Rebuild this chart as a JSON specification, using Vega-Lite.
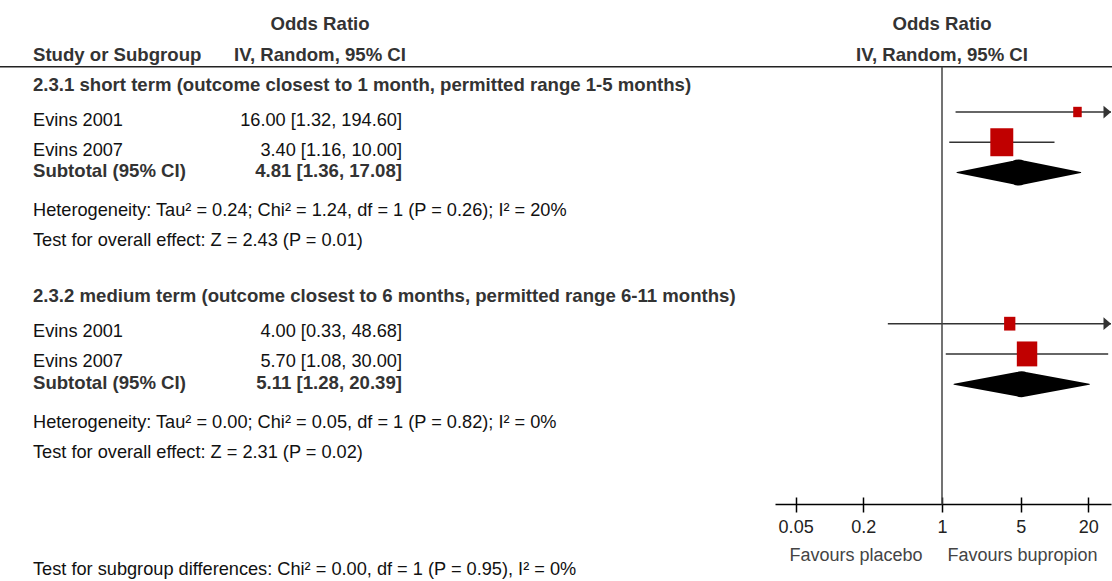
{
  "$schema": "https://vega.github.io/schema/vega-lite/v6.json",
  "width": 1112,
  "height": 581,
  "autosize": {"type": "none"},
  "padding": 0,
  "background": "white",
  "config": {"view": {"stroke": null}, "font": "Liberation Sans"},
  "datasets": {
    "rows": [
      {"kind": "colhead", "row": 1, "label": "Odds Ratio"},
      {"kind": "colhead", "row": 2, "label": "IV, Random, 95% CI"},
      {"kind": "header", "row": 2, "label": "Study or Subgroup"},
      {"kind": "title", "row": 3, "label": "2.3.1 short term (outcome closest to 1 month, permitted range 1-5 months)"},
      {"kind": "study", "group": "2.3.1", "row": 4, "label": "Evins 2001", "ci": "16.00 [1.32, 194.60]", "or": 16.0, "lo": 1.32, "hi": 194.6, "weight": 12},
      {"kind": "study", "group": "2.3.1", "row": 5, "label": "Evins 2007", "ci": "3.40 [1.16, 10.00]", "or": 3.4, "lo": 1.16, "hi": 10.0, "weight": 87},
      {"kind": "subtotal", "group": "2.3.1", "row": 6, "label": "Subtotal (95% CI)", "ci": "4.81 [1.36, 17.08]", "or": 4.81, "lo": 1.36, "hi": 17.08},
      {"kind": "note", "row": 7, "label": "Heterogeneity: Tau² = 0.24; Chi² = 1.24, df = 1 (P = 0.26); I² = 20%"},
      {"kind": "note", "row": 8, "label": "Test for overall effect: Z = 2.43 (P = 0.01)"},
      {"kind": "title", "row": 10, "label": "2.3.2 medium term (outcome closest to 6 months, permitted range 6-11 months)"},
      {"kind": "study", "group": "2.3.2", "row": 11, "label": "Evins 2001", "ci": "4.00 [0.33, 48.68]", "or": 4.0, "lo": 0.33, "hi": 48.68, "weight": 21},
      {"kind": "study", "group": "2.3.2", "row": 12, "label": "Evins 2007", "ci": "5.70 [1.08, 30.00]", "or": 5.7, "lo": 1.08, "hi": 30.0, "weight": 69},
      {"kind": "subtotal", "group": "2.3.2", "row": 13, "label": "Subtotal (95% CI)", "ci": "5.11 [1.28, 20.39]", "or": 5.11, "lo": 1.28, "hi": 20.39},
      {"kind": "note", "row": 14, "label": "Heterogeneity: Tau² = 0.00; Chi² = 0.05, df = 1 (P = 0.82); I² = 0%"},
      {"kind": "note", "row": 15, "label": "Test for overall effect: Z = 2.31 (P = 0.02)"},
      {"kind": "foot", "row": 19, "label": "Test for subgroup differences: Chi² = 0.00, df = 1 (P = 0.95), I² = 0%"}
    ]
  },
  "data": {"name": "rows"},
  "resolve": {"scale": {"x": "independent"}},
  "layer": [
    {
      "layer": [
        {
          "data": {"values": [{}]},
          "mark": {"type": "rule", "color": "#222", "strokeWidth": 1.5},
          "encoding": {
            "y": {"datum": 2.5, "type": "quantitative", "scale": {"domain": [0.2963, 19.509], "reverse": true, "nice": false, "zero": false}, "axis": null}
          }
        },
        {
          "transform": [{"filter": {"field": "kind", "oneOf": ["study", "note"]}}],
          "mark": {"type": "text", "align": "left", "baseline": "middle", "dy": 8.5, "fontSize": 18.2, "color": "#111"},
          "encoding": {
            "x": {"datum": "label", "type": "nominal", "scale": {"type": "point", "domain": ["label", "ci"], "range": [33, 402], "padding": 0}, "axis": null},
            "y": {"field": "row", "type": "quantitative", "scale": {"domain": [0.2963, 19.509], "reverse": true, "nice": false, "zero": false}, "axis": null},
            "text": {"field": "label"}
          }
        },
        {
          "transform": [{"filter": {"field": "kind", "equal": "foot"}}],
          "mark": {"type": "text", "align": "left", "baseline": "middle", "dy": 4.5, "fontSize": 18.2, "color": "#111"},
          "encoding": {
            "x": {"datum": "label", "type": "nominal", "scale": {"type": "point", "domain": ["label", "ci"], "range": [33, 402], "padding": 0}, "axis": null},
            "y": {"field": "row", "type": "quantitative", "scale": {"domain": [0.2963, 19.509], "reverse": true, "nice": false, "zero": false}, "axis": null},
            "text": {"field": "label"}
          }
        },
        {
          "transform": [{"filter": {"field": "kind", "oneOf": ["title", "header"]}}],
          "mark": {"type": "text", "align": "left", "baseline": "middle", "dy": 3, "fontSize": 18.6, "fontWeight": "bold", "color": "#333"},
          "encoding": {
            "x": {"datum": "label", "type": "nominal", "scale": {"type": "point", "domain": ["label", "ci"], "range": [33, 402], "padding": 0}, "axis": null},
            "y": {"field": "row", "type": "quantitative", "scale": {"domain": [0.2963, 19.509], "reverse": true, "nice": false, "zero": false}, "axis": null},
            "text": {"field": "label"}
          }
        },
        {
          "transform": [{"filter": {"field": "kind", "equal": "subtotal"}}],
          "mark": {"type": "text", "align": "left", "baseline": "middle", "dy": -1, "fontSize": 18.6, "fontWeight": "bold", "color": "#333"},
          "encoding": {
            "x": {"datum": "label", "type": "nominal", "scale": {"type": "point", "domain": ["label", "ci"], "range": [33, 402], "padding": 0}, "axis": null},
            "y": {"field": "row", "type": "quantitative", "scale": {"domain": [0.2963, 19.509], "reverse": true, "nice": false, "zero": false}, "axis": null},
            "text": {"field": "label"}
          }
        },
        {
          "transform": [{"filter": {"field": "kind", "equal": "study"}}],
          "mark": {"type": "text", "align": "right", "baseline": "middle", "dy": 8.5, "fontSize": 18.2, "color": "#111"},
          "encoding": {
            "x": {"datum": "ci", "type": "nominal", "scale": {"type": "point", "domain": ["label", "ci"], "range": [33, 402], "padding": 0}, "axis": null},
            "y": {"field": "row", "type": "quantitative", "scale": {"domain": [0.2963, 19.509], "reverse": true, "nice": false, "zero": false}, "axis": null},
            "text": {"field": "ci"}
          }
        },
        {
          "transform": [{"filter": {"field": "kind", "equal": "subtotal"}}],
          "mark": {"type": "text", "align": "right", "baseline": "middle", "dy": -1, "fontSize": 18.6, "fontWeight": "bold", "color": "#333"},
          "encoding": {
            "x": {"datum": "ci", "type": "nominal", "scale": {"type": "point", "domain": ["label", "ci"], "range": [33, 402], "padding": 0}, "axis": null},
            "y": {"field": "row", "type": "quantitative", "scale": {"domain": [0.2963, 19.509], "reverse": true, "nice": false, "zero": false}, "axis": null},
            "text": {"field": "ci"}
          }
        }
      ]
    },
    {
      "transform": [{"filter": {"field": "kind", "equal": "colhead"}}],
      "mark": {"type": "text", "align": "center", "baseline": "middle", "dy": 3, "fontSize": 18.6, "fontWeight": "bold", "color": "#333"},
      "encoding": {
        "x": {"datum": "head", "type": "nominal", "scale": {"type": "point", "domain": ["label", "head"], "range": [33, 320], "padding": 0}, "axis": null},
        "y": {"field": "row", "type": "quantitative", "scale": {"domain": [0.2963, 19.509], "reverse": true, "nice": false, "zero": false}, "axis": null},
        "text": {"field": "label"}
      }
    },
    {
      "resolve": {"scale": {"size": "independent"}},
      "layer": [
        {
          "transform": [{"filter": {"field": "kind", "equal": "study"}}],
          "mark": {"type": "rule", "color": "#333", "strokeWidth": 1.5},
          "encoding": {
            "x": {"field": "lo", "type": "quantitative", "scale": {"type": "log", "domain": [0.03278, 31.78], "range": [775, 1111], "nice": false, "clamp": true},
              "axis": {"orient": "bottom", "offset": -77, "values": [0.05, 0.2, 1, 5, 20], "format": "~g", "grid": false, "domainColor": "#000", "domainWidth": 1.5, "tickColor": "#000", "tickWidth": 1.5, "tickSize": 8, "labelFontSize": 18, "labelColor": "#222", "labelPadding": 6, "labelFont": "Liberation Sans", "labelFlush": false, "labelOverlap": false, "title": "Favours placebo\u00a0\u00a0\u00a0\u00a0\u00a0Favours bupropion", "titleFontSize": 18, "titleFontWeight": "normal", "titleColor": "#444", "titlePadding": 10, "titleFont": "Liberation Sans"}},
            "x2": {"field": "hi"},
            "y": {"field": "row", "type": "quantitative", "scale": {"domain": [0.2963, 19.509], "reverse": true, "nice": false, "zero": false}, "axis": null}
          }
        },
        {
          "transform": [{"filter": {"field": "kind", "equal": "study"}}, {"filter": {"field": "hi", "gt": 31.78}}],
          "mark": {"type": "point", "shape": "M0,0L-1,-0.85L-1,0.85Z", "size": 225, "filled": true, "color": "#333", "opacity": 1, "strokeWidth": 0},
          "encoding": {
            "x": {"field": "hi", "type": "quantitative", "scale": {"type": "log", "domain": [0.03278, 31.78], "range": [775, 1111], "nice": false, "clamp": true},
              "axis": {"orient": "bottom", "offset": -77, "values": [0.05, 0.2, 1, 5, 20], "format": "~g", "grid": false, "domainColor": "#000", "domainWidth": 1.5, "tickColor": "#000", "tickWidth": 1.5, "tickSize": 8, "labelFontSize": 18, "labelColor": "#222", "labelPadding": 6, "labelFont": "Liberation Sans", "labelFlush": false, "labelOverlap": false, "title": "Favours placebo\u00a0\u00a0\u00a0\u00a0\u00a0Favours bupropion", "titleFontSize": 18, "titleFontWeight": "normal", "titleColor": "#444", "titlePadding": 10, "titleFont": "Liberation Sans"}},
            "y": {"field": "row", "type": "quantitative", "scale": {"domain": [0.2963, 19.509], "reverse": true, "nice": false, "zero": false}, "axis": null}
          }
        },
        {
          "transform": [{"filter": {"field": "kind", "equal": "study"}}],
          "mark": {"type": "point", "shape": "M-0.82,-1H0.82V1H-0.82Z", "filled": true, "color": "#C00000", "opacity": 1, "strokeWidth": 0},
          "encoding": {
            "x": {"field": "or", "type": "quantitative", "scale": {"type": "log", "domain": [0.03278, 31.78], "range": [775, 1111], "nice": false, "clamp": true},
              "axis": {"orient": "bottom", "offset": -77, "values": [0.05, 0.2, 1, 5, 20], "format": "~g", "grid": false, "domainColor": "#000", "domainWidth": 1.5, "tickColor": "#000", "tickWidth": 1.5, "tickSize": 8, "labelFontSize": 18, "labelColor": "#222", "labelPadding": 6, "labelFont": "Liberation Sans", "labelFlush": false, "labelOverlap": false, "title": "Favours placebo\u00a0\u00a0\u00a0\u00a0\u00a0Favours bupropion", "titleFontSize": 18, "titleFontWeight": "normal", "titleColor": "#444", "titlePadding": 10, "titleFont": "Liberation Sans"}},
            "y": {"field": "row", "type": "quantitative", "scale": {"domain": [0.2963, 19.509], "reverse": true, "nice": false, "zero": false}, "axis": null},
            "size": {"field": "weight", "type": "quantitative", "scale": {"domain": [0, 100], "range": [0, 900]}, "legend": null}
          }
        },
        {
          "transform": [{"filter": {"field": "kind", "equal": "subtotal"}}, {"fold": ["lo", "or", "hi"], "as": ["key", "value"]}],
          "mark": {"type": "trail", "color": "#000"},
          "encoding": {
            "x": {"field": "value", "type": "quantitative", "scale": {"type": "log", "domain": [0.03278, 31.78], "range": [775, 1111], "nice": false, "clamp": true},
              "axis": {"orient": "bottom", "offset": -77, "values": [0.05, 0.2, 1, 5, 20], "format": "~g", "grid": false, "domainColor": "#000", "domainWidth": 1.5, "tickColor": "#000", "tickWidth": 1.5, "tickSize": 8, "labelFontSize": 18, "labelColor": "#222", "labelPadding": 6, "labelFont": "Liberation Sans", "labelFlush": false, "labelOverlap": false, "title": "Favours placebo\u00a0\u00a0\u00a0\u00a0\u00a0Favours bupropion", "titleFontSize": 18, "titleFontWeight": "normal", "titleColor": "#444", "titlePadding": 10, "titleFont": "Liberation Sans"}},
            "y": {"field": "row", "type": "quantitative", "scale": {"domain": [0.2963, 19.509], "reverse": true, "nice": false, "zero": false}, "axis": null},
            "detail": {"field": "group"},
            "order": {"field": "value", "type": "quantitative"},
            "size": {"field": "key", "type": "nominal", "scale": {"type": "ordinal", "domain": ["lo", "or", "hi"], "range": [0, 26, 0]}, "legend": null}
          }
        },
        {
          "transform": [{"filter": {"field": "kind", "equal": "colhead"}}],
          "mark": {"type": "text", "align": "center", "baseline": "middle", "dy": 3, "fontSize": 18.6, "fontWeight": "bold", "color": "#333"},
          "encoding": {
            "x": {"datum": 1, "type": "quantitative", "scale": {"type": "log", "domain": [0.03278, 31.78], "range": [775, 1111], "nice": false, "clamp": true},
              "axis": {"orient": "bottom", "offset": -77, "values": [0.05, 0.2, 1, 5, 20], "format": "~g", "grid": false, "domainColor": "#000", "domainWidth": 1.5, "tickColor": "#000", "tickWidth": 1.5, "tickSize": 8, "labelFontSize": 18, "labelColor": "#222", "labelPadding": 6, "labelFont": "Liberation Sans", "labelFlush": false, "labelOverlap": false, "title": "Favours placebo\u00a0\u00a0\u00a0\u00a0\u00a0Favours bupropion", "titleFontSize": 18, "titleFontWeight": "normal", "titleColor": "#444", "titlePadding": 10, "titleFont": "Liberation Sans"}},
            "y": {"field": "row", "type": "quantitative", "scale": {"domain": [0.2963, 19.509], "reverse": true, "nice": false, "zero": false}, "axis": null},
            "text": {"field": "label"}
          }
        }
      ]
    },
    {
      "data": {"values": [{}]},
      "mark": {"type": "rule", "color": "#444", "strokeWidth": 1.5},
      "encoding": {
        "x": {"datum": 1, "type": "quantitative", "scale": {"type": "log", "domain": [0.03278, 31.78], "range": [775, 1111], "nice": false, "clamp": true},
          "axis": {"orient": "bottom", "offset": -84, "values": [0.05, 0.2, 1, 5, 20], "domain": false, "labels": false, "ticks": true, "tickSize": 7, "tickWidth": 1.5, "tickColor": "#000", "grid": false, "title": null}},
        "y": {"datum": 2.5, "type": "quantitative", "scale": {"domain": [0.2963, 19.509], "reverse": true, "nice": false, "zero": false}, "axis": null},
        "y2": {"datum": 16.98}
      }
    }
  ]
}
